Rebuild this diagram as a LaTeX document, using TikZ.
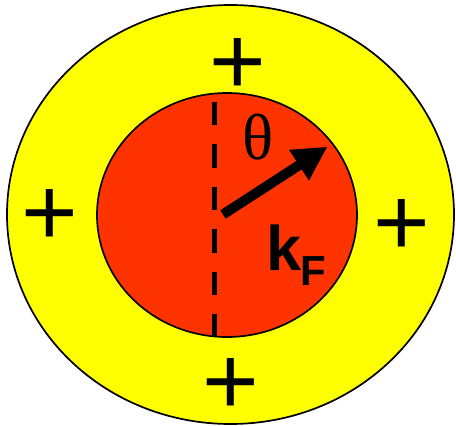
\documentclass[tikz,border=0pt]{standalone}
\usepackage{fontspec}
\usetikzlibrary{shapes.geometric,arrows.meta}
\newfontfamily\plussans{Liberation Sans}
\newfontfamily\thetaserif{Liberation Serif}
\definecolor{shellyellow}{HTML}{FFFF00}
\definecolor{fermired}{HTML}{FF3300}
\tikzset{
  ring/.style={ellipse, draw=black, line width=1.7pt, inner sep=0pt},
  plussign/.style={anchor=base, inner sep=0pt, font=\plussans\fontsize{97}{100}\selectfont},
  dashline/.style={line width=5.5pt, dash pattern=on 23.5pt off 19pt},
  karrow/.style={line width=10pt, -{Triangle[length=34pt,width=34pt]}},
}
\begin{document}
\begin{tikzpicture}[x=1pt,y=-1pt]
\useasboundingbox (0,0) rectangle (456,426);
\node[ring, fill=shellyellow, minimum width=447pt, minimum height=419pt] (outer) at (230.5,214.5) {};
\node[ring, fill=fermired, minimum width=260pt, minimum height=244pt] (inner) at (227,215) {};
\coordinate (dtop) at (214.7,101.7);
\coordinate (dbot) at (214.7,337);
\draw[dashline] (dtop) -- (dbot);
\coordinate (o) at (223,214.5);
\coordinate (tip) at (327.5,146.7);
\draw[karrow] (o) -- (tip);
\node[inner sep=0pt, font=\thetaserif\fontsize{65}{70}\selectfont] (theta) at (258.5,137.5) {θ};
\node[anchor=base west, inner sep=0pt, font=\plussans\bfseries\fontsize{63}{66}\selectfont] (k) at (266,270) {k};
\node[anchor=base west, inner sep=0pt, font=\plussans\bfseries\fontsize{42}{44}\selectfont] (F) at (300,285) {F};
\node[plussign] (ptop) at (237.7,94.7) {+};
\node[plussign] (pleft) at (50,245) {+};
\node[plussign] (pright) at (402,255) {+};
\node[plussign] (pbot) at (231,414) {+};
\end{tikzpicture}
\end{document}
